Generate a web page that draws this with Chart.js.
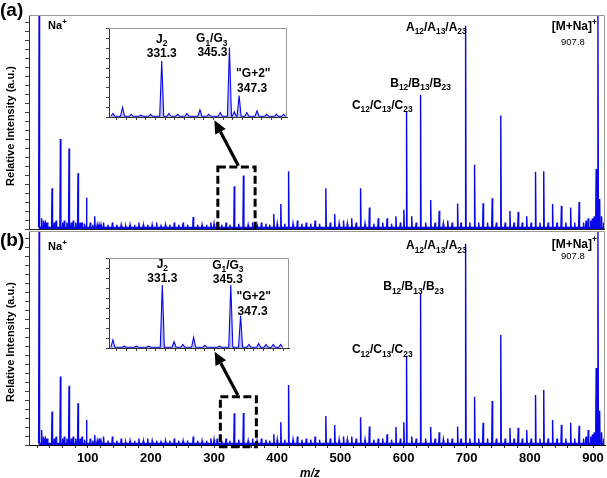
<!DOCTYPE html>
<html>
<head>
<meta charset="utf-8">
<script src="https://cdn.jsdelivr.net/npm/chart.js@4/dist/chart.umd.min.js"></script>
<style>
body { margin: 0; background: #fff; }
#wrap { position: relative; width: 607px; height: 478px; background: #fff; overflow: hidden; }
canvas { position: absolute; }
</style>
</head>
<body>
<div id="wrap">
  <canvas id="mainA" width="607" height="230" style="left:0;top:0"></canvas>
  <canvas id="mainB" width="607" height="248" style="left:0;top:230px"></canvas>
  <canvas id="insetA" width="182" height="93" style="left:106px;top:27px"></canvas>
  <canvas id="insetB" width="184" height="94" style="left:106px;top:257px"></canvas>
</div>
<script>
// peak lists (m/z, relative intensity in % of panel height)
var mzA = [23, 27, 30, 43.5, 50, 56.7, 63, 70.4, 77, 84.6, 91, 98, 104, 111, 118, 125, 139, 153, 167, 181, 195, 209, 223, 237, 251, 267, 281, 295, 305, 319,
  332, 346.5, 361, 375, 394.6, 405.7, 418, 432, 446, 460, 477, 491, 505, 518, 532, 546, 560, 574, 588, 600.5, 604.8, 613, 627, 643, 656.5, 670, 685.6,
  698.3, 712.5, 726, 740.4, 754, 768.5, 781.6, 795, 809, 822, 836, 850, 864.6, 878, 892.5, 896, 899, 902, 905, 907.8, 910.5, 913.5, 917];
var intA = [100, 5, 4, 19, 4, 42, 4, 37.6, 4, 26, 3, 14.6, 3, 6, 2, 3, 3, 2, 2, 3, 2, 3, 2, 3, 3, 5.6, 2, 3, 3, 3,
  20, 25, 3, 3, 7, 11.7, 27, 4, 3, 4, 19, 7, 4, 5, 19, 10, 5, 5, 6, 9, 55, 6, 62.7, 13.5, 8.5, 4, 11.9,
  95, 30, 12, 14.4, 53, 8.4, 8, 6, 26.8, 27, 11.7, 10.8, 10, 12.6, 5, 4, 5, 6, 28, 100, 14, 6, 3];

var mzB = [23, 27, 30, 43.5, 50, 56.7, 63, 70.4, 77, 84.6, 91, 98, 104, 111, 118, 125, 139, 153, 167, 181, 195, 209, 223, 237, 251, 267, 281, 295, 305, 319,
  332, 346.5, 361, 375, 394.6, 405.7, 418, 432, 446, 460, 477, 491, 505, 518, 532, 546, 560, 574, 588, 600.5, 604.8, 613, 627, 643, 656.5, 670, 685.6,
  698.3, 712.5, 726, 740.4, 754, 768.5, 781.6, 795, 809, 822, 836, 850, 864.6, 878, 892.5, 896, 899, 902, 905, 907.8, 910.5, 913.5, 917];
var intB = [100, 7, 4, 15.6, 4, 32, 4, 27.7, 4, 19.5, 4, 11.7, 3, 4.7, 3, 4, 4, 3, 2, 3, 3, 2, 2, 3, 2, 4, 2, 3, 3, 3,
  14.8, 15, 3, 3, 5, 10.6, 28, 4, 3, 4, 13.6, 9.3, 4, 4, 13, 8.6, 3, 5, 8.4, 10.6, 41.7, 4, 71, 8.4, 6, 3, 8.6,
  94, 22.6, 10.4, 20.6, 51.4, 8, 8, 7, 23.4, 25.7, 11.7, 9.5, 10.4, 9, 7, 4, 5, 6, 36, 100, 16, 6, 3];

// low background peaks between the main series (both panels)
var minorMz = [33, 36, 47, 60, 67, 74, 81, 88, 95, 108, 115, 121, 132, 146, 160, 174, 188, 202, 216, 230, 244, 258, 274, 288, 300, 312, 325, 339, 354, 368,
  382, 388, 400, 412, 425, 439, 453, 467, 484, 498, 511, 525, 539, 553, 567, 581, 595, 620, 635, 650, 663, 677, 691, 705, 719, 733, 747, 761, 775,
  788, 802, 816, 829, 843, 857, 871, 885, 889];
var minorInt = [3, 3, 3, 3, 3, 3, 3, 3, 2.5, 2, 2, 2, 2, 2, 1.5, 2, 2, 2, 1.5, 2, 2, 2, 2, 2, 2.5, 2, 2, 2.5, 2, 2,
  2.5, 2, 2.5, 2.5, 2.5, 2.5, 2.5, 2.5, 3, 2.5, 2.5, 3, 2.5, 2.5, 3, 2.5, 3, 3, 3, 3, 2.5, 3, 3, 3, 3, 3, 3, 3, 3,
  3, 3, 3, 3, 3, 3, 3, 3, 4];

// zoomed inset around m/z 320-357
var insetMzA = [321.2, 323.2, 325, 327, 329, 331.3, 332.8, 334.6, 336.5, 339.2, 341, 343.4, 345.3, 346.3, 347.3, 348.9, 351, 353, 355, 356.5];
var insetIntA = [4, 11, 3, 2, 3, 63, 4, 3, 4, 8, 3, 5, 78, 6, 24, 5, 7, 3, 3, 3];
var insetMzB = [321.2, 323.5, 326, 328.5, 331.3, 333.7, 335.5, 337.7, 340, 343, 345.3, 347.3, 349, 351, 352.5, 354, 355.5];
var insetIntB = [9, 2, 2, 2, 70, 7, 4, 12, 3, 2, 70, 36, 4, 5, 4, 4, 4];

var xTicks = [100, 200, 300, 400, 500, 600, 700, 800, 900];

var FONT = "'Liberation Sans', Arial, Helvetica, sans-serif";
var BLUE = '#0808e8';

function spectrum(mz, h, w, base) {
  var idx = mz.map(function (m, i) { return i; }).sort(function (a, b) { return mz[a] - mz[b]; });
  var pts = [];
  idx.forEach(function (i) {
    pts.push({ x: mz[i] - w, y: base }, { x: mz[i], y: h[i] }, { x: mz[i] + w, y: base });
  });
  return pts;
}

// text with _{sub} and ^{sup}
function segs(str) {
  var out = [], re = /([_^])\{([^}]*)\}/g, last = 0, m;
  while ((m = re.exec(str))) {
    if (m.index > last) out.push({ t: str.slice(last, m.index), k: 0 });
    out.push({ t: m[2], k: m[1] === '_' ? 1 : 2 });
    last = re.lastIndex;
  }
  if (last < str.length) out.push({ t: str.slice(last), k: 0 });
  return out;
}
function drawRich(ctx, str, x, y, align, size, weight) {
  weight = weight || 'bold';
  var parts = segs(str), total = 0;
  parts.forEach(function (p) {
    var s = p.k ? size * 0.7 : size;
    ctx.font = weight + ' ' + s + 'px ' + FONT;
    p.w = ctx.measureText(p.t).width;
    total += p.w;
  });
  var cx = align === 'left' ? x : align === 'right' ? x - total : x - total / 2;
  ctx.textAlign = 'left';
  ctx.textBaseline = 'alphabetic';
  parts.forEach(function (p) {
    var s = p.k ? size * 0.7 : size;
    ctx.font = weight + ' ' + s + 'px ' + FONT;
    var by = y + size * 0.36 + (p.k === 1 ? size * 0.28 : p.k === 2 ? -size * 0.42 : 0);
    ctx.fillText(p.t, cx, by);
    cx += p.w;
  });
}

var decor = {
  id: 'decor',
  beforeDraw: function (chart, args, o) {
    var a = chart.chartArea, ctx = chart.ctx;
    if (o.whiteArea) {
      ctx.save(); ctx.fillStyle = '#fff';
      ctx.fillRect(a.left, a.top, a.right - a.left, a.bottom - a.top);
      ctx.restore();
    }
  },
  afterDraw: function (chart, args, o) {
    var ctx = chart.ctx, a = chart.chartArea;
    var xs = chart.scales.x, ys = chart.scales.y;
    ctx.save();
    // gray frame on top and right
    ctx.strokeStyle = '#9a9a9a'; ctx.lineWidth = 1;
    ctx.beginPath();
    ctx.moveTo(a.left, a.top + 0.5); ctx.lineTo(a.right - 0.5, a.top + 0.5); ctx.lineTo(a.right - 0.5, a.bottom);
    ctx.stroke();
    if (o.bottomLine) {
      ctx.strokeStyle = '#222';
      ctx.beginPath(); ctx.moveTo(a.left, a.bottom + 0.5); ctx.lineTo(a.right, a.bottom + 0.5); ctx.stroke();
    }
    ctx.fillStyle = '#000';
    (o.labels || []).forEach(function (l) {
      drawRich(ctx, l.t, xs.getPixelForValue(l.mz) + (l.dx || 0), ys.getPixelForValue(l.y), l.align || 'center', l.size || 12, l.weight);
    });
    if (o.box) {
      var b = o.box;
      ctx.strokeStyle = '#000'; ctx.lineWidth = 3; ctx.setLineDash([8, 3.5]);
      var x0 = xs.getPixelForValue(b.x0), x1 = xs.getPixelForValue(b.x1);
      var y0 = ys.getPixelForValue(b.y0), y1 = ys.getPixelForValue(b.y1);
      ctx.strokeRect(x0, y1, x1 - x0, y0 - y1);
      ctx.setLineDash([]);
    }
    if (o.arrow) {
      var f = o.arrow.from, t = o.arrow.to;
      var fx = xs.getPixelForValue(f[0]), fy = ys.getPixelForValue(f[1]);
      var tx = xs.getPixelForValue(t[0]), ty = ys.getPixelForValue(t[1]);
      var ang = Math.atan2(ty - fy, tx - fx), hl = 13, hw = 6;
      var bx = tx - hl * Math.cos(ang), by = ty - hl * Math.sin(ang);
      ctx.strokeStyle = '#000'; ctx.lineWidth = 3.2;
      ctx.beginPath(); ctx.moveTo(fx, fy); ctx.lineTo(bx, by); ctx.stroke();
      ctx.beginPath();
      ctx.moveTo(tx, ty);
      ctx.lineTo(bx + hw * Math.sin(ang), by - hw * Math.cos(ang));
      ctx.lineTo(bx - hw * Math.sin(ang), by + hw * Math.cos(ang));
      ctx.closePath(); ctx.fill();
    }
    if (o.panel) {
      ctx.font = 'bold 19px ' + FONT; ctx.textAlign = 'left'; ctx.textBaseline = 'middle';
      ctx.fillText(o.panel, 0, o.panelY);
    }
    if (o.yTitle) {
      ctx.save();
      ctx.translate(11, (a.top + a.bottom) / 2 + 4);
      ctx.rotate(-Math.PI / 2);
      ctx.font = 'bold 11px ' + FONT; ctx.textAlign = 'center'; ctx.textBaseline = 'middle';
      ctx.fillText(o.yTitle, 0, 0);
      ctx.restore();
    }
    if (o.xTitle) {
      ctx.font = 'italic bold 12px ' + FONT; ctx.textAlign = 'center'; ctx.textBaseline = 'middle';
      ctx.fillText(o.xTitle, (a.left + a.right) / 2 - 7, chart.height - 4);
    }
    ctx.restore();
  }
};

function mainChart(id, mz, h, pad, showX, deco) {
  var allMz = mz.concat(minorMz), allH = h.concat(minorInt);
  var xScale = {
    type: 'linear', min: 7, max: 919, display: showX,
    ticks: {
      stepSize: 20, includeBounds: false, autoSkip: false, maxRotation: 0, padding: 3, color: '#000',
      font: { family: FONT, size: 13, weight: 'bold' },
      callback: function (v) { return xTicks.indexOf(Math.round(v)) >= 0 ? Math.round(v) : ''; }
    },
    grid: { drawOnChartArea: false, tickLength: 3, color: '#333' },
    border: { color: '#000' }
  };
  if (showX) xScale.afterFit = function (s) { s.height = 33; };
  return new Chart(document.getElementById(id), {
    type: 'line',
    data: { datasets: [{ data: spectrum(allMz, allH, 0.75, 0.7), borderColor: BLUE, backgroundColor: BLUE, borderWidth: 1.4, pointRadius: 0, tension: 0, fill: 'origin' }] },
    options: {
      responsive: false, animation: false, devicePixelRatio: 1,
      layout: { padding: pad },
      plugins: { legend: { display: false }, tooltip: { enabled: false }, decor: deco },
      scales: {
        x: xScale,
        y: {
          min: 0, max: 100,
          ticks: { display: false, stepSize: 4.2, includeBounds: false },
          grid: { drawOnChartArea: false, tickLength: 4, color: '#444' },
          border: { color: '#333' },
          afterFit: function (s) { s.width = 29; }
        }
      }
    },
    plugins: [decor]
  });
}

function insetChart(id, mz, h, deco) {
  return new Chart(document.getElementById(id), {
    type: 'line',
    data: { datasets: [{ data: spectrum(mz, h, 0.42, 0.8), borderColor: BLUE, backgroundColor: 'rgba(60,60,255,0.35)', borderWidth: 1.1, pointRadius: 0, tension: 0, fill: 'origin' }] },
    options: {
      responsive: false, animation: false, devicePixelRatio: 1,
      layout: { padding: { top: 1, right: 1, left: 0, bottom: 0 } },
      plugins: { legend: { display: false }, tooltip: { enabled: false }, decor: deco },
      scales: {
        x: {
          type: 'linear', min: 320.4, max: 357.2,
          ticks: { display: false, stepSize: 2, includeBounds: false },
          grid: { drawOnChartArea: false, tickLength: 3, color: '#444' },
          border: { color: '#333' },
          afterFit: function (s) { s.height = 3; }
        },
        y: {
          min: 0, max: 100,
          ticks: { display: false, stepSize: 11, includeBounds: false },
          grid: { drawOnChartArea: false, tickLength: 3, color: '#444' },
          border: { color: '#333' },
          afterFit: function (s) { s.width = 3; }
        }
      }
    },
    plugins: [decor]
  });
}

mainChart('mainA', mzA, intA, { left: 0, right: 2, top: 15, bottom: 1 }, false, {
  panel: '(a)', panelY: 11, yTitle: 'Relative Intensity (a.u.)', bottomLine: true,
  labels: [
    { t: 'Na^{+}', mz: 23, y: 95.3, dx: 9, align: 'left', size: 11 },
    { t: 'A_{12}/A_{13}/A_{23}', mz: 698.3, y: 94.5, dx: 1, align: 'right' },
    { t: 'B_{12}/B_{13}/B_{23}', mz: 627, y: 68.5, dx: 0, align: 'center' },
    { t: 'C_{12}/C_{13}/C_{23}', mz: 604.8, y: 58.2, dx: 6, align: 'right' },
    { t: '[M+Na]^{+}', mz: 907.8, y: 95, dx: -1, align: 'right' },
    { t: '907.8', mz: 907.8, y: 87.5, dx: -25, align: 'center', size: 9.5, weight: 'normal' }
  ],
  box: { x0: 306, x1: 365, y0: -0.5, y1: 29 },
  arrow: { from: [338.5, 29.6], to: [300.5, 50.8] }
});

mainChart('mainB', mzB, intB, { left: 0, right: 2, top: 1, bottom: 0 }, true, {
  panel: '(b)', panelY: 11, yTitle: 'Relative Intensity (a.u.)', xTitle: 'm/z',
  labels: [
    { t: 'Na^{+}', mz: 23, y: 93.1, dx: 9, align: 'left', size: 11 },
    { t: 'A_{12}/A_{13}/A_{23}', mz: 698.3, y: 93.5, dx: 1, align: 'right' },
    { t: 'B_{12}/B_{13}/B_{23}', mz: 627, y: 74.3, dx: -7, align: 'center' },
    { t: 'C_{12}/C_{13}/C_{23}', mz: 604.8, y: 44.9, dx: 6, align: 'right' },
    { t: '[M+Na]^{+}', mz: 907.8, y: 94.3, dx: -1, align: 'right' },
    { t: '907.8', mz: 907.8, y: 88.5, dx: -25, align: 'center', size: 9.5, weight: 'normal' }
  ],
  box: { x0: 310, x1: 367, y0: -0.8, y1: 22.6 },
  arrow: { from: [337.6, 23.4], to: [301, 43.6] }
});

insetChart('insetA', insetMzA, insetIntA, {
  whiteArea: true,
  labels: [
    { t: 'J_{2}', mz: 331.3, y: 88, align: 'center' },
    { t: '331.3', mz: 331.3, y: 72.4, align: 'center' },
    { t: 'G_{1}/G_{3}', mz: 345.3, y: 88.8, dx: -2, align: 'right' },
    { t: '345.3', mz: 345.3, y: 73, dx: -2, align: 'right' },
    { t: '"G+2"', mz: 347.3, y: 49.4, dx: -3, align: 'left' },
    { t: '347.3', mz: 347.3, y: 33, dx: -2, align: 'left' }
  ]
});

insetChart('insetB', insetMzB, insetIntB, {
  whiteArea: true,
  labels: [
    { t: 'J_{2}', mz: 331.3, y: 93.7, align: 'center' },
    { t: '331.3', mz: 331.3, y: 78, align: 'center' },
    { t: 'G_{1}/G_{3}', mz: 345.3, y: 92.6, dx: -3, align: 'center' },
    { t: '345.3', mz: 345.3, y: 77, dx: -3, align: 'center' },
    { t: '"G+2"', mz: 347.3, y: 57.8, dx: -4, align: 'left' },
    { t: '347.3', mz: 347.3, y: 41.4, dx: -3, align: 'left' }
  ]
});
</script>
</body>
</html>
